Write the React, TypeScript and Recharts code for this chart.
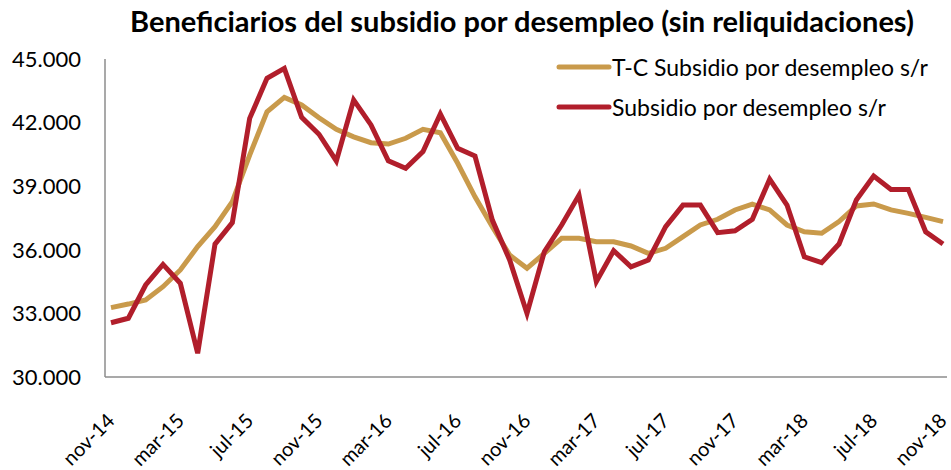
import { LineChart, Line, XAxis, YAxis } from 'recharts';

const months = [
  'nov-14', 'dic-14', 'ene-15', 'feb-15', 'mar-15', 'abr-15', 'may-15', 'jun-15', 'jul-15', 'ago-15', 'sep-15', 'oct-15',
  'nov-15', 'dic-15', 'ene-16', 'feb-16', 'mar-16', 'abr-16', 'may-16', 'jun-16', 'jul-16', 'ago-16', 'sep-16', 'oct-16',
  'nov-16', 'dic-16', 'ene-17', 'feb-17', 'mar-17', 'abr-17', 'may-17', 'jun-17', 'jul-17', 'ago-17', 'sep-17', 'oct-17',
  'nov-17', 'dic-17', 'ene-18', 'feb-18', 'mar-18', 'abr-18', 'may-18', 'jun-18', 'jul-18', 'ago-18', 'sep-18', 'oct-18',
  'nov-18',
];

const subsidio = [
  32560, 32770, 34340, 35310, 34420, 31120, 36270, 37280, 42200, 44090, 44560, 42250,
  41450, 40190, 43070, 41890, 40200, 39840, 40630, 42410, 40790, 40420, 37400, 35520,
  33000, 35910, 37170, 38580, 34500, 35960, 35200, 35520, 37090, 38110, 38110, 36810,
  36900, 37440, 39330, 38110, 35670, 35390, 36270, 38350, 39480, 38850, 38850, 36850,
  36270,
];

const tendencia = [
  33270, 33440, 33630, 34260, 35050, 36150, 37090, 38270, 40470, 42510, 43190, 42830,
  42230, 41680, 41330, 41050, 40990, 41260, 41680, 41520, 40080, 38500, 37090, 35750,
  35130, 35830, 36540, 36540, 36380, 36380, 36180, 35830, 36070, 36620, 37170, 37440,
  37880, 38150, 37880, 37170, 36850, 36780, 37330, 38070, 38160, 37880, 37720, 37530,
  37330,
];

const yTicks = [30000, 33000, 36000, 39000, 42000, 45000];

const seriesNames = ['T-C Subsidio por desempleo s/r', 'Subsidio por desempleo s/r'];

const data = months.map((m, i) => ({ mes: m, tc: tendencia[i], sub: subsidio[i] }));

const FONT = 'Lato, "Open Sans", sans-serif';
const ORANGE = '#C99A4B';
const RED = '#B11E2B';

// 45000 -> "45.000"
const fmt = (v: number) => String(v).replace(/\B(?=(\d{3})+(?!\d))/g, '.');

function XTick({ x, y, payload }: any) {
  const ax = x + 5;
  const ay = y + 37;
  return (
    <text
      x={ax}
      y={ay}
      transform={`rotate(-45 ${ax} ${ay})`}
      textAnchor="end"
      fontSize={20}
      fontFamily={FONT}
      fill="#000"
    >
      {payload.value}
    </text>
  );
}

export default function App() {
  const legendColors = [ORANGE, RED];
  return (
    <div style={{ position: 'absolute', left: 0, top: 0, width: 951, height: 470, background: '#fff' }}>
      <div
        style={{
          position: 'absolute',
          left: 0,
          width: 1044,
          top: 4,
          textAlign: 'center',
          fontFamily: FONT,
          fontWeight: 'bold',
          fontSize: 29,
          color: '#000',
          lineHeight: '34px',
        }}
      >
        Beneficiarios del subsidio por desempleo (sin reliquidaciones)
      </div>
      <div style={{ position: 'absolute', left: 556, top: 47, fontFamily: FONT, fontSize: 23, zIndex: 2 }}>
        {seriesNames.map((name, i) => (
          <div key={name} style={{ display: 'flex', alignItems: 'center', height: 40 }}>
            <svg width={56} height={10}>
              <line x1={3} y1={5} x2={53} y2={5} stroke={legendColors[i]} strokeWidth={5} strokeLinecap="round" />
            </svg>
            <span style={{ color: '#000' }}>{name}</span>
          </div>
        ))}
      </div>
      <LineChart width={951} height={470} data={data} margin={{ top: 59, right: 4, bottom: 8, left: 0 }}>
        <XAxis
          dataKey="mes"
          interval={3}
          tick={<XTick />}
          tickLine={false}
          axisLine={{ stroke: '#8c8c8c', strokeWidth: 1.5 }}
          height={85}
          padding={{ left: 6, right: 4 }}
        />
        <YAxis
          domain={[30000, 45000]}
          ticks={yTicks}
          tickFormatter={fmt}
          width={105}
          tickLine={false}
          axisLine={{ stroke: '#8c8c8c', strokeWidth: 1.5 }}
          tick={{ fontSize: 22, fontFamily: FONT, fill: '#000' }}
          tickMargin={18}
        />
        <Line
          dataKey="tc"
          name={seriesNames[0]}
          stroke={ORANGE}
          strokeWidth={5}
          dot={false}
          isAnimationActive={false}
        />
        <Line
          dataKey="sub"
          name={seriesNames[1]}
          stroke={RED}
          strokeWidth={5}
          dot={false}
          isAnimationActive={false}
        />
      </LineChart>
    </div>
  );
}
